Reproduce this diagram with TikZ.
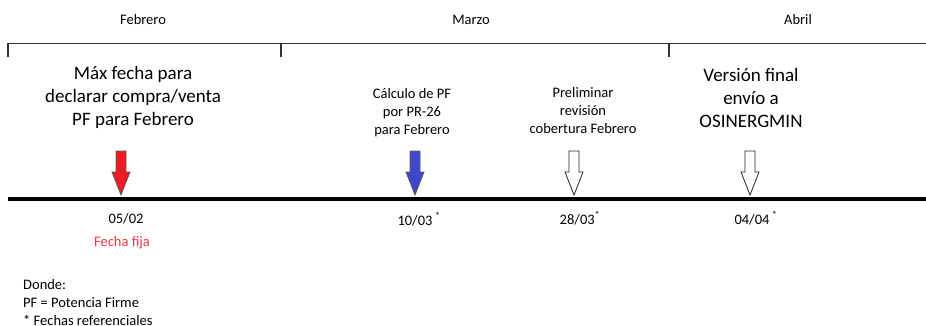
\documentclass[tikz,border=0pt]{standalone}
\usepackage{fontspec}
\setmainfont{Carlito}
\definecolor{arrred}{RGB}{237,28,36}
\definecolor{arrblue}{RGB}{63,72,204}
\definecolor{fijared}{RGB}{245,55,65}
\definecolor{outl}{RGB}{90,90,90}
\begin{document}
\begin{tikzpicture}[x=1pt,y=-1pt,
  lbl/.style={font=\fontsize{14.5}{18}\selectfont, align=center, anchor=base, inner sep=0pt},
  big/.style={font=\fontsize{19}{23}\selectfont, align=center, anchor=base, inner sep=0pt},
  legend/.style={font=\fontsize{14.5}{18}\selectfont, anchor=base west, inner sep=0pt},
  pics/darrow/.style={code={\draw[line width=0.8pt, line join=miter, #1]
     (-5,0) -- (-5,21) -- (-9,21) -- (0,44) -- (9,21) -- (5,21) -- (5,0) -- cycle;}}]
\useasboundingbox (0,0) rectangle (926,326);
% month bracket
\coordinate (bl) at (8,43.5);
\coordinate (br) at (926,43.5);
\coordinate (t1) at (8,57);
\coordinate (t2a) at (281,43.5);
\coordinate (t2) at (281,57);
\coordinate (t3a) at (669,43.5);
\coordinate (t3) at (669,57);
\draw[line width=1.2pt, black!80] (t1) -- (bl) -- (br);
\draw[line width=1.2pt, black!80] (t2a) -- (t2);
\draw[line width=1.2pt, black!80] (t3a) -- (t3);
\node[lbl] (feb) at (143,25) {Febrero};
\node[lbl] (mar) at (471,25) {Marzo};
\node[lbl] (abr) at (798,25) {Abril};
% event texts (anchor base = baseline of last line)
\node[big] (e1) at (133,126) {Máx fecha para\\declarar compra/venta\\PF para Febrero};
\node[lbl] (e2) at (412,135) {Cálculo de PF\\por PR-26\\para Febrero};
\node[lbl] (e3) at (583,134) {Preliminar\\revisión\\cobertura Febrero};
\node[big] (e4) at (751,128) {Versión final\\envío a\\OSINERGMIN};
% timeline
\coordinate (ll) at (8,199);
\coordinate (lr) at (926,199);
\draw[line width=3.8pt] (ll) -- (lr);
% arrows
\pic at (121,151) {darrow={fill=arrred, draw=outl}};
\pic at (415,151) {darrow={fill=arrblue, draw=outl}};
\pic at (574,151) {darrow={fill=white, draw=black!85}};
\pic at (750,151) {darrow={fill=white, draw=black!85}};
% dates
\node[lbl] (d1) at (126,223) {05/02};
\node[lbl, text=fijared] (f1) at (122,246) {Fecha fija};
\node[lbl] (d2) at (419,225) {10/03\,\textsuperscript{*}};
\node[lbl] (d3) at (580,224) {28/03\textsuperscript{*}};
\node[lbl] (d4) at (756,224) {04/04\,\textsuperscript{*}};
% legend
\node[legend] (g1) at (23,289) {Donde:};
\node[legend] (g2) at (23,307) {PF = Potencia Firme};
\node[legend] (g3) at (23,325) {* Fechas referenciales};
\end{tikzpicture}
\end{document}
